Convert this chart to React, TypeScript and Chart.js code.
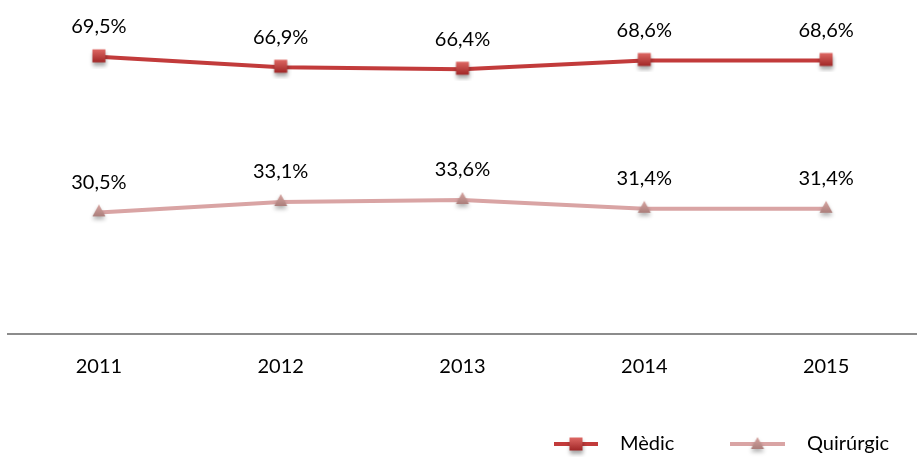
import React, { useEffect, useRef } from "react";
import { Chart, registerables } from "chart.js";

Chart.register(...registerables);

const years = ["2011", "2012", "2013", "2014", "2015"];
const medic = [69.5, 66.9, 66.4, 68.6, 68.6];
const quirurgic = [30.5, 33.1, 33.6, 31.4, 31.4];
const seriesNames = ["Mèdic", "Quirúrgic"];

const MEDIC_COLOR = "#c23b3b";
const QUIR_COLOR = "#d9a4a4";
const FONT = "Lato, 'Open Sans', sans-serif";

function makeSquare(): HTMLCanvasElement {
  const c = document.createElement("canvas");
  c.width = 22;
  c.height = 24;
  const ctx = c.getContext("2d")!;
  ctx.shadowColor = "rgba(0,0,0,0.35)";
  ctx.shadowBlur = 4;
  ctx.shadowOffsetY = 3;
  const g = ctx.createLinearGradient(4, 4, 4, 18);
  g.addColorStop(0, "#e06a66");
  g.addColorStop(1, "#9e2424");
  ctx.fillStyle = g;
  ctx.fillRect(4.5, 4.5, 13, 13);
  return c;
}

function makeTriangle(): HTMLCanvasElement {
  const c = document.createElement("canvas");
  c.width = 22;
  c.height = 24;
  const ctx = c.getContext("2d")!;
  ctx.shadowColor = "rgba(0,0,0,0.3)";
  ctx.shadowBlur = 4;
  ctx.shadowOffsetY = 3;
  const g = ctx.createLinearGradient(4, 4, 4, 17);
  g.addColorStop(0, "#d8a6a2");
  g.addColorStop(1, "#a77b78");
  ctx.fillStyle = g;
  ctx.beginPath();
  ctx.moveTo(11, 4);
  ctx.lineTo(17.5, 16);
  ctx.lineTo(4.5, 16);
  ctx.closePath();
  ctx.fill();
  return c;
}

export default function App() {
  const ref = useRef<HTMLCanvasElement | null>(null);

  useEffect(() => {
    if (!ref.current) return;
    const sq = makeSquare();
    const tri = makeTriangle();

    const labelPlugin = {
      id: "labelsAndLegend",
      afterDatasetsDraw(chart: any) {
        const ctx = chart.ctx;
        ctx.save();
        ctx.font = `20px ${FONT}`;
        ctx.fillStyle = "#000";
        ctx.textAlign = "center";
        ctx.textBaseline = "middle";
        chart.data.datasets.forEach((ds: any, di: number) => {
          const meta = chart.getDatasetMeta(di);
          meta.data.forEach((pt: any, i: number) => {
            const v = ds.data[i] as number;
            ctx.fillText(v.toFixed(1).replace(".", ",") + "%", pt.x, pt.y - 30);
          });
        });
        // legend
        const ly = 444;
        const items = [
          { x0: 554, x1: 598, tx: 620, color: MEDIC_COLOR, img: sq, name: seriesNames[0] },
          { x0: 730, x1: 785, tx: 807, color: QUIR_COLOR, img: tri, name: seriesNames[1] },
        ];
        items.forEach((it) => {
          ctx.strokeStyle = it.color;
          ctx.lineWidth = 4;
          ctx.beginPath();
          ctx.moveTo(it.x0, ly);
          ctx.lineTo(it.x1, ly);
          ctx.stroke();
          const cx = (it.x0 + it.x1) / 2;
          ctx.drawImage(it.img, cx - 11, ly - 11);
          ctx.textAlign = "left";
          ctx.fillStyle = "#000";
          ctx.fillText(it.name, it.tx, ly);
        });
        ctx.restore();
      },
    };

    const chart = new Chart(ref.current, {
      type: "line",
      data: {
        labels: years,
        datasets: [
          {
            label: seriesNames[0],
            data: medic,
            borderColor: MEDIC_COLOR,
            backgroundColor: MEDIC_COLOR,
            borderWidth: 4,
            pointStyle: sq as any,
            pointRadius: 8,
            tension: 0,
          },
          {
            label: seriesNames[1],
            data: quirurgic,
            borderColor: QUIR_COLOR,
            backgroundColor: QUIR_COLOR,
            borderWidth: 4,
            pointStyle: tri as any,
            pointRadius: 8,
            tension: 0,
          },
        ],
      },
      options: {
        animation: false,
        responsive: false,
        layout: { autoPadding: false, padding: { top: 15, left: 8, right: -2, bottom: 57 } },
        plugins: {
          legend: { display: false },
          tooltip: { enabled: false },
        },
        scales: {
          x: {
            offset: true,
            grid: { display: false, drawTicks: false },
            border: { display: true, color: "#8c8c8c", width: 2 },
            ticks: {
              color: "#000",
              padding: 21,
              font: { family: FONT, size: 20 },
            },
            afterFit: (scale: any) => {
              scale.paddingLeft = 0;
              scale.paddingRight = 0;
            },
          },
          y: {
            display: false,
            min: 0,
            max: 80,
          },
        },
      },
      plugins: [labelPlugin],
    });
    return () => chart.destroy();
  }, []);

  return (
    <div style={{ position: "absolute", left: 0, top: 0, width: 917, height: 457, background: "#fff" }}>
      <canvas ref={ref} width={917} height={457} style={{ width: 917, height: 457 }} />
    </div>
  );
}
